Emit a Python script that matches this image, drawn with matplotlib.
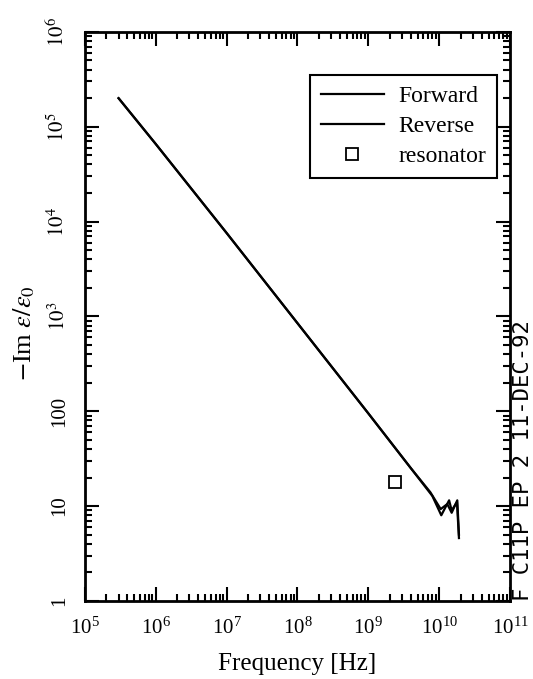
import numpy as np
import matplotlib
matplotlib.use("Agg")
import matplotlib.pyplot as plt
from matplotlib.ticker import FixedLocator, FixedFormatter, LogLocator, NullFormatter

plt.rcParams['font.family'] = ['Liberation Serif', 'DejaVu Serif']
plt.rcParams['mathtext.fontset'] = 'stix'

# values
fwd_freq = [3.0e5, 1.0e6, 1.0e7, 1.0e8, 1.0e9, 4.0e9, 8.0e9, 1.07e10, 1.38e10, 1.5e10, 1.78e10, 1.9e10]
fwd_eps = [2.0e5, 6.6e4, 7.6e3, 850, 95, 25, 12.8, 8.0, 11.5, 9.0, 11.0, 4.6]
rev_freq = [3.0e5, 1.0e6, 1.0e7, 1.0e8, 1.0e9, 4.0e9, 7.5e9, 1.05e10, 1.3e10, 1.5e10, 1.8e10, 1.9e10]
rev_eps = [2.0e5, 6.6e4, 7.6e3, 850, 95, 25, 14.0, 9.3, 10.5, 8.5, 11.5, 5.0]
res_freq = [2.35e9]
res_eps = [17.8]

y_ticks = [1, 10, 100, 1e3, 1e4, 1e5, 1e6]
y_tick_labels = ['1', '10', '100', '$10^3$', '$10^4$', '$10^5$', '$10^6$']

fig = plt.figure(figsize=(5.33, 6.79), dpi=100)
ax = fig.add_axes([0.159, 0.115, 0.798, 0.838])

ax.plot(fwd_freq, fwd_eps, color='black', lw=1.6, label='Forward')
ax.plot(rev_freq, rev_eps, color='black', lw=1.6, label='Reverse')
ax.plot(res_freq, res_eps, 's', ms=8, mfc='white', mec='black', mew=1.3,
        ls='none', label='resonator')

ax.set_xscale('log')
ax.set_yscale('log')
ax.set_xlim(1e5, 1e11)
ax.set_ylim(1, 1e6)

ax.xaxis.set_major_locator(LogLocator(base=10, numticks=10))
ax.xaxis.set_minor_locator(LogLocator(base=10, subs=np.arange(2, 10), numticks=20))
ax.xaxis.set_minor_formatter(NullFormatter())
ax.yaxis.set_major_locator(FixedLocator(y_ticks))
ax.yaxis.set_major_formatter(FixedFormatter(y_tick_labels))
ax.yaxis.set_minor_locator(LogLocator(base=10, subs=np.arange(2, 10), numticks=20))
ax.yaxis.set_minor_formatter(NullFormatter())

ax.tick_params(which='both', direction='in', top=True, right=True, width=1.5)
ax.tick_params(which='major', length=10, labelsize=15)
ax.tick_params(axis='x', which='major', pad=12)
ax.tick_params(axis='y', which='major', pad=11)
ax.tick_params(which='minor', length=5)
for lab in ax.get_yticklabels():
    lab.set_rotation(90)
    lab.set_va('center')
for s in ax.spines.values():
    s.set_linewidth(2)

ax.set_xlabel('Frequency [Hz]', fontsize=18, labelpad=10)
ax.set_ylabel(r'$-$Im $\varepsilon/\varepsilon_0$', fontsize=19)
ax.yaxis.set_label_coords(-0.112, 0.47)

leg = ax.legend(loc='upper right', bbox_to_anchor=(0.969, 0.924), borderaxespad=0,
                fontsize=17, frameon=True, fancybox=False, edgecolor='black',
                framealpha=1, handlelength=2.7, handletextpad=0.6,
                borderpad=0.45, labelspacing=0.35)
leg.get_frame().set_linewidth(1.5)

fig.text(0.982, 0.115, 'F C11P EP 2 11-DEC-92', rotation=90, ha='center', va='bottom',
         family='DejaVu Sans Mono', fontsize=16)

fig.savefig('out.png', dpi=100)
